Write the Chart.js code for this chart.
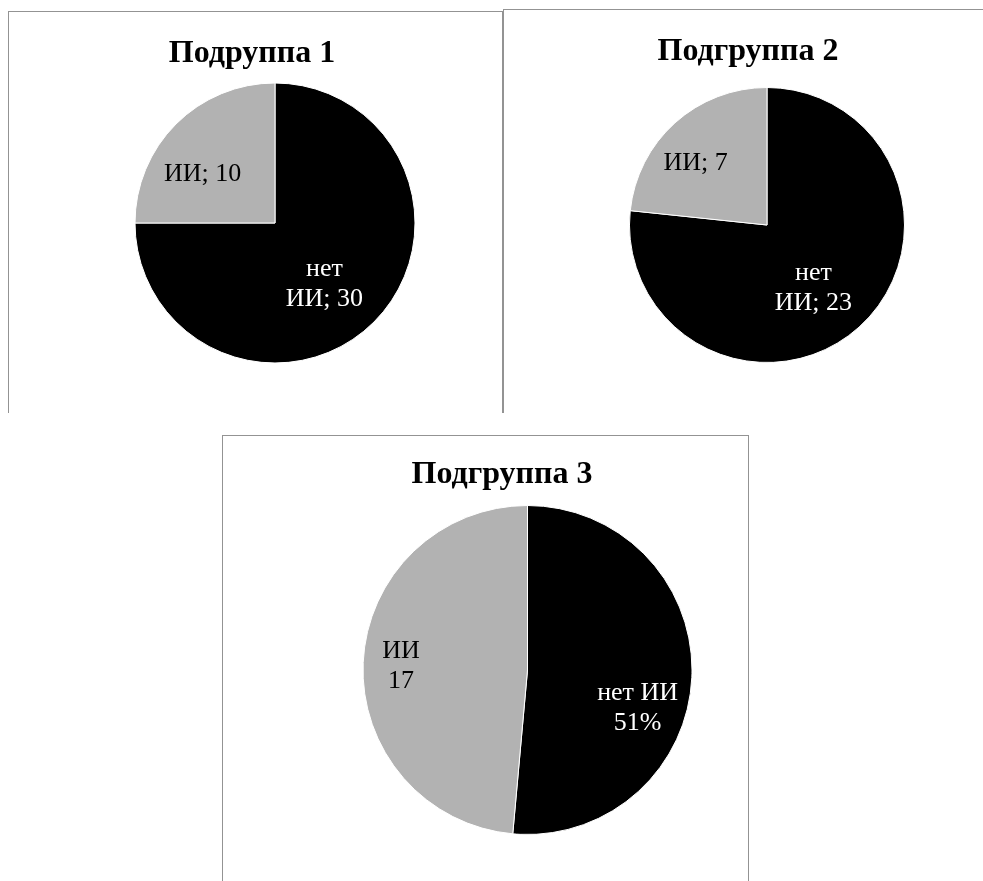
<!DOCTYPE html>
<html lang="ru">
<head>
<meta charset="utf-8">
<title>Подгруппы</title>
<script src="https://cdn.jsdelivr.net/npm/chart.js@4.4.1/dist/chart.umd.min.js"></script>
<style>
  html, body { margin: 0; padding: 0; background: #fff; }
  body { position: relative; width: 983px; height: 881px; overflow: hidden; }
  .panel { position: absolute; box-sizing: border-box; border: 1px solid #939393; border-bottom: none; background: #fff; }
  .panel canvas { position: absolute; left: 0; top: 0; }
</style>
</head>
<body>
<div class="panel" style="left:8px; top:11px; width:495px; height:402px;"><canvas id="c1" width="493" height="401"></canvas></div>
<div class="panel" style="left:503px; top:9px; width:490px; height:404px;"><canvas id="c2" width="488" height="403"></canvas></div>
<div class="panel" style="left:222px; top:435px; width:527px; height:450px;"><canvas id="c3" width="525" height="449"></canvas></div>

<script>
var categories = ["нет ИИ", "ИИ"];
var titles = ["Подруппа 1", "Подгруппа 2", "Подгруппа 3"];
var values1 = [30, 10];
var values2 = [23, 7];
var values3 = [18, 17];
// the third pie shows a percent on the black slice and a count on the grey one
var labelKinds3 = ["percent", "count"];

var colors = ["#000000", "#b2b2b2"];
var textColors = ["#ffffff", "#000000"];
var serif = '"Liberation Serif", "Times New Roman", serif';

// "нет ИИ; 30" -> ["нет", "ИИ; 30"]
function countLabel(cat, v) {
  var words = cat.split(' ');
  words[words.length - 1] += '; ' + v;
  return words;
}

function mixedLabel(cat, v, total, i) {
  if (labelKinds3[i] == "percent") return [cat, Math.round(v / total * 100) + '%'];
  return [cat, String(v)];
}

// text inside each slice, placed along the middle angle of the arc
var sliceLabels = {
  id: 'sliceLabels',
  afterDatasetsDraw: function(chart, args, opts) {
    var ctx = chart.ctx;
    var meta = chart.getDatasetMeta(0);
    var vals = chart.data.datasets[0].data;
    var total = vals.reduce(function(a, b) { return a + b; }, 0);
    ctx.save();
    ctx.font = '26px ' + serif;
    ctx.textAlign = 'center';
    ctx.textBaseline = 'middle';
    meta.data.forEach(function(arc, i) {
      var p = arc.getProps(['x', 'y', 'startAngle', 'endAngle', 'outerRadius'], true);
      var mid = (p.startAngle + p.endAngle) / 2;
      var d = p.outerRadius * opts.dist[i];
      var x = p.x + Math.cos(mid) * d + opts.nudge[i][0];
      var y = p.y + Math.sin(mid) * d + opts.nudge[i][1];
      var lines = opts.format(chart.data.labels[i], vals[i], total, i);
      var top = y - (lines.length - 1) * 30 / 2;
      ctx.fillStyle = textColors[i];
      lines.forEach(function(t, k) { ctx.fillText(t, x, top + k * 30); });
    });
    ctx.restore();
  }
};

// bold heading, drawn by hand so it does not have to sit over the pie centre
var panelTitle = {
  id: 'panelTitle',
  afterDraw: function(chart, args, opts) {
    var ctx = chart.ctx;
    ctx.save();
    ctx.font = 'bold 32px ' + serif;
    ctx.fillStyle = '#000000';
    ctx.textAlign = 'center';
    ctx.textBaseline = 'alphabetic';
    ctx.fillText(opts.text, opts.x, opts.y);
    ctx.restore();
  }
};

function makePie(id, title, values, lay, labelOpts) {
  var cv = document.getElementById(id);
  // chart area is a square of side 2r around the wanted centre
  var pad = {
    left: lay.cx - lay.r,
    top: lay.cy - lay.r,
    right: cv.width - lay.cx - lay.r,
    bottom: cv.height - lay.cy - lay.r
  };
  return new Chart(cv.getContext('2d'), {
    type: 'pie',
    data: {
      labels: categories,
      datasets: [{
        data: values,
        backgroundColor: colors,
        borderColor: '#ffffff',
        borderWidth: 1,
        hoverOffset: 0,
        radius: lay.r
      }]
    },
    options: {
      responsive: false,
      animation: false,
      events: [],
      layout: { padding: pad },
      plugins: {
        legend: { display: false },
        tooltip: { enabled: false },
        title: { display: false },
        panelTitle: { text: title, x: lay.tx, y: lay.ty },
        sliceLabels: labelOpts
      }
    },
    plugins: [sliceLabels, panelTitle]
  });
}

makePie('c1', titles[0], values1,
  { cx: 266, cy: 211, r: 140, tx: 243, ty: 50 },
  { dist: [0.56, 0.61], nudge: [[-6, 6], [-12, 12]], format: countLabel });

makePie('c2', titles[1], values2,
  { cx: 263, cy: 215, r: 137.5, tx: 244, ty: 50 },
  { dist: [0.57, 0.69], nudge: [[-6, 5], [-8, 9]], format: countLabel });

makePie('c3', titles[2], values3,
  { cx: 304.5, cy: 234, r: 164.5, tx: 279, ty: 47 },
  { dist: [0.67, 0.77], nudge: [[0, 33], [0, 2]], format: mixedLabel });
</script>
</body>
</html>
